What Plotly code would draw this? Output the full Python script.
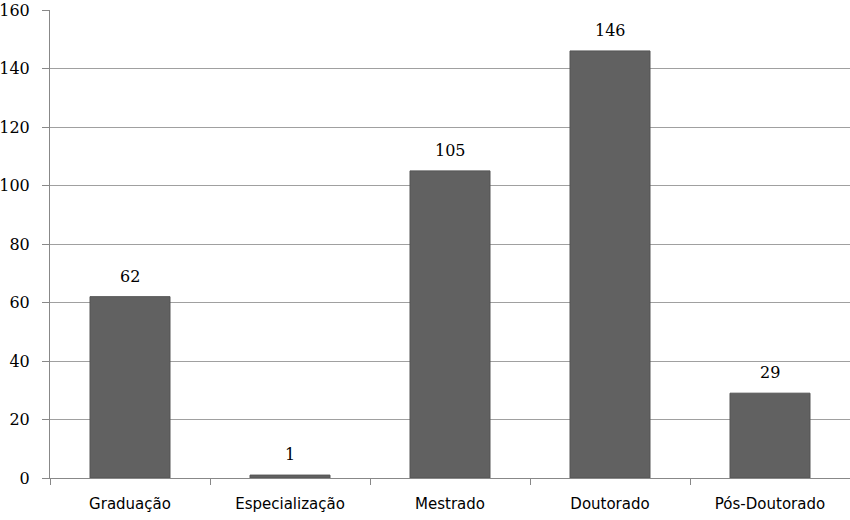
import plotly.graph_objects as go

categorias = ["Graduação", "Especialização", "Mestrado", "Doutorado", "Pós-Doutorado"]
valores = [62, 1, 105, 146, 29]
y_ticks = [0, 20, 40, 60, 80, 100, 120, 140, 160]

fig = go.Figure()
fig.add_trace(go.Bar(
    x=categorias,
    y=valores,
    width=0.5,
    marker=dict(color="#616161", line=dict(color="#555555", width=1)),
    hoverinfo="x+y",
))

# rotulos de dados acima das barras
for c, v in zip(categorias, valores):
    fig.add_annotation(x=c, y=v, text=str(v), showarrow=False,
                       yanchor="bottom", yshift=9,
                       font=dict(family="DejaVu Serif", size=16, color="#000000"))

fig.update_layout(
    width=850, height=520,
    margin=dict(l=50, r=0, t=10, b=42),
    plot_bgcolor="white", paper_bgcolor="white",
    showlegend=False,
    font=dict(family="DejaVu Sans", size=15, color="#000000"),
)
fig.update_xaxes(
    showline=True, linecolor="#888888", linewidth=1,
    ticks="outside", ticklen=6, tickcolor="#888888",
    tickson="boundaries", showgrid=False,
    ticklabelstandoff=12, automargin=False,
    tickfont=dict(size=15, family="DejaVu Sans", color="#000000"),
)
fig.update_yaxes(
    range=[0, 160], tickvals=y_ticks,
    showline=True, linecolor="#888888", linewidth=1,
    ticks="outside", ticklen=7, tickcolor="#888888",
    showgrid=True, gridcolor="#a0a0a0", gridwidth=1,
    zeroline=False, automargin=False,
    ticklabelstandoff=9, ticklabeloverflow="allow",
    tickfont=dict(size=16, family="DejaVu Serif", color="#000000"),
)

# tira a margem padrao do body para o grafico ocupar a janela toda
fig.write_html("out.html", config={"displayModeBar": False},
               post_script="document.body.style.margin='0px';")
